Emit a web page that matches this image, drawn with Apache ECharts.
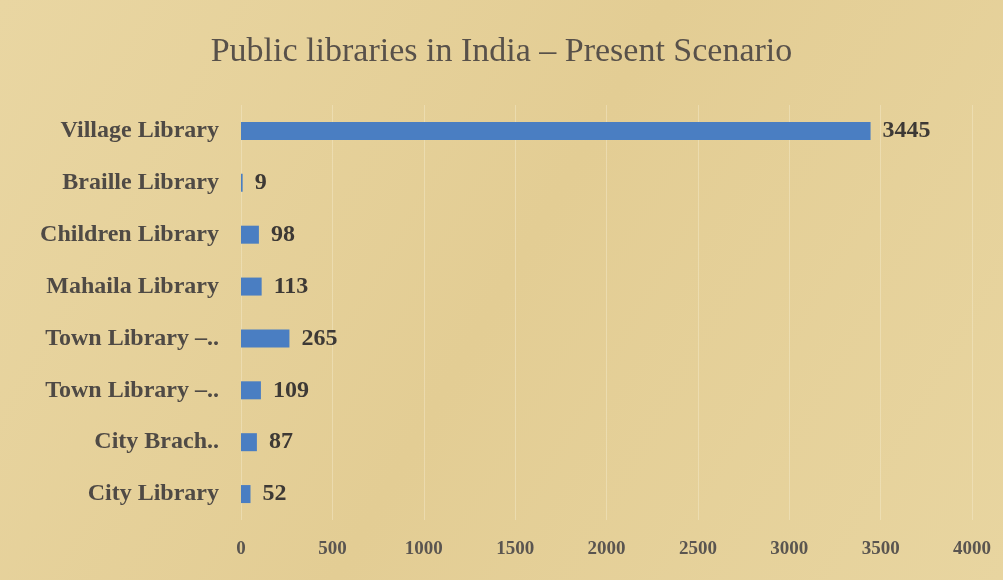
<!DOCTYPE html>
<html>
<head>
<meta charset="utf-8">
<script src="https://cdn.jsdelivr.net/npm/echarts@6/dist/echarts.min.js"></script>
<style>
html,body{margin:0;padding:0;background:#e6d29c;}
#main{width:1003px;height:580px;}
</style>
</head>
<body>
<div id="main"></div>
<script>
const categories = ["City Library", "City Brach..", "Town Library –..", "Town Library –..", "Mahaila Library", "Children Library", "Braille Library", "Village Library"];
const values = [52, 87, 109, 265, 113, 98, 9, 3445];
const xTicks = [0, 500, 1000, 1500, 2000, 2500, 3000, 3500, 4000];

const chart = echarts.init(document.getElementById('main'));
chart.setOption({
  backgroundColor: {
    type: 'linear', x: 0, y: 0, x2: 1, y2: 1,
    colorStops: [
      {offset: 0, color: '#e9d6a2'},
      {offset: 0.5, color: '#e3cd94'},
      {offset: 1, color: '#e8d5a0'}
    ]
  },
  title: {
    text: 'Public libraries in India – Present Scenario',
    left: 'center', top: 30,
    textStyle: {fontFamily: 'Liberation Serif', fontWeight: 'normal', fontSize: 34, color: '#58514a'}
  },
  grid: {left: 241, right: 31, top: 105, bottom: 60, containLabel: false},
  xAxis: {
    type: 'value', min: 0, max: 4000, interval: 500,
    axisLine: {show: false}, axisTick: {show: false},
    splitLine: {show: true, lineStyle: {color: 'rgba(245,235,205,0.45)', width: 1}},
    axisLabel: {
      margin: 20, fontFamily: 'Liberation Serif', fontWeight: 'bold', fontSize: 19, color: '#5a5550',
      formatter: v => xTicks.includes(v) ? String(v) : ''
    }
  },
  yAxis: {
    type: 'category', data: categories,
    axisLine: {show: false}, axisTick: {show: false},
    axisLabel: {margin: 22, fontFamily: 'Liberation Serif', fontWeight: 'bold', fontSize: 24, color: '#4f4a45'}
  },
  series: [{
    type: 'bar', data: values, barWidth: 18,
    itemStyle: {color: '#4a7ec2'},
    label: {show: true, position: 'right', distance: 12, fontFamily: 'Liberation Serif', fontWeight: 'bold', fontSize: 24, color: '#3d3935'}
  }]
});
</script>
</body>
</html>
